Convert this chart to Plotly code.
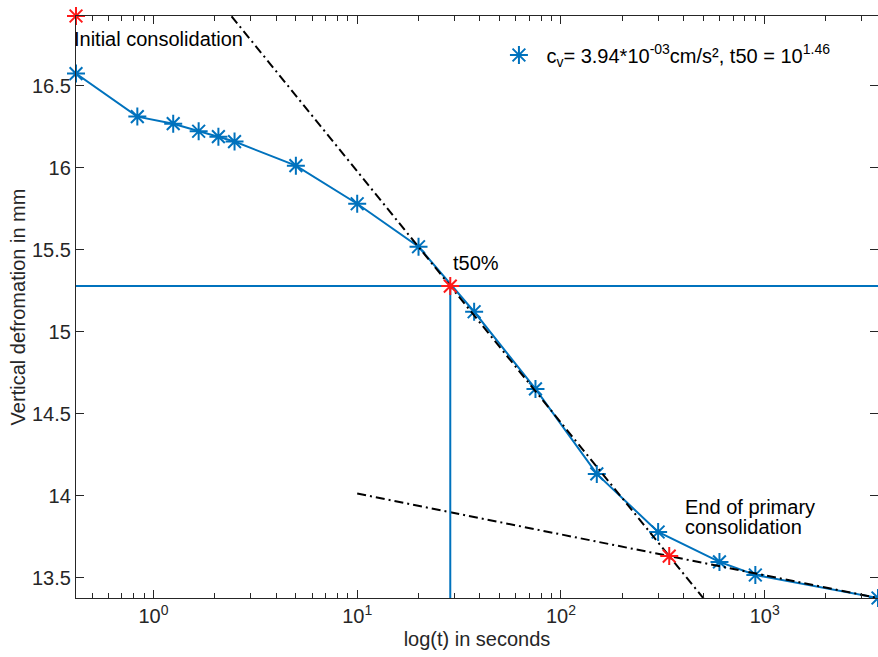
import numpy as np
import plotly.graph_objects as go

# Oedometer readings: elapsed time (s) and dial reading (mm)
t_sec = [25 / 60, 50 / 60, 75 / 60, 100 / 60, 125 / 60, 150 / 60,
         5, 10, 20, 37.5, 75, 150, 300, 600, 900, 3600]
settlement_mm = [16.573, 16.311, 16.268, 16.222, 16.189, 16.159,
                 16.012, 15.780, 15.518, 15.122, 14.652, 14.134,
                 13.780, 13.598, 13.518, 13.378]

# Casagrande construction parameters (y = a + b*log10(t))
steep_intercept = 17.509
steep_slope = -1.531
tail_slope = -0.249
tail_start_t = 10
cv_value = 3.94e-3

x_ticks = [1, 10, 100, 1000]
y_ticks = [13.5, 14, 14.5, 15, 15.5, 16, 16.5]

BLUE = "#0072BD"
RED = "#FF1A1A"
AX = "#262626"
FONT = "Liberation Sans, Arial, Helvetica, sans-serif"
FS = 20

t = np.array(t_sec)
d = np.array(settlement_mm)
logt = np.log10(t)

# d0 from the first reading and the one at four times that time
d0 = d[0] + (d[0] - d[3])
# secondary-compression tail through the last reading
tail_intercept = d[-1] - tail_slope * logt[-1]
log_t100 = (tail_intercept - steep_intercept) / (steep_slope - tail_slope)
t100 = 10 ** log_t100
d100 = steep_intercept + steep_slope * log_t100
d50 = (d0 + d100) / 2
log_t50 = (d50 - steep_intercept) / steep_slope
t50 = 10 ** log_t50

y_min, y_max = d.min(), d0

fig = go.Figure()

star = dict(symbol="asterisk-open", size=15, line=dict(width=2, color=BLUE), color=BLUE)
dashdot = dict(color="black", width=2, dash="9px,4px,2px,4px")

fig.add_trace(go.Scatter(
    x=t, y=d, mode="lines+markers", line=dict(color=BLUE, width=2),
    marker=star, cliponaxis=False, showlegend=False))

# steep tangent through the inflection
steep_x = [t[0], t[-1]]
steep_y = [steep_intercept + steep_slope * np.log10(v) for v in steep_x]
fig.add_trace(go.Scatter(x=steep_x, y=steep_y, mode="lines", line=dashdot, showlegend=False))

# tail tangent
tail_x = [tail_start_t, t[-1]]
tail_y = [tail_intercept + tail_slope * np.log10(v) for v in tail_x]
fig.add_trace(go.Scatter(x=tail_x, y=tail_y, mode="lines", line=dashdot, showlegend=False))

# d50 guide lines
fig.add_trace(go.Scatter(
    x=[t[0], t[-1]], y=[d50, d50], mode="lines",
    line=dict(color=BLUE, width=2), showlegend=False))
fig.add_trace(go.Scatter(
    x=[t50, t50], y=[d50, y_min], mode="lines",
    line=dict(color=BLUE, width=2), showlegend=False))

# key points
fig.add_trace(go.Scatter(
    x=[t[0], t50, t100], y=[d0, d50, d100], mode="markers",
    marker=dict(symbol="asterisk-open", size=15, line=dict(width=2, color=RED), color=RED),
    cliponaxis=False, showlegend=False))

legend_label = (f"c<sub>v</sub>= {cv_value / 1e-3:.2f}*10<sup>-03</sup>cm/s², "
                f"t50 = 10<sup>{log_t50:.2f}</sup>")
fig.add_trace(go.Scatter(
    x=[None], y=[None], mode="markers", marker=star, name=legend_label, showlegend=True))

txt = dict(size=FS, color="black", family=FONT)
fig.add_annotation(x=logt[0], y=d0 - 0.14, text="Initial consolidation",
                   showarrow=False, xanchor="left", yanchor="middle", xshift=-4, font=txt)
fig.add_annotation(x=log_t50, y=d50 + 0.14, text="t50%",
                   showarrow=False, xanchor="left", yanchor="middle", xshift=1, font=txt)
fig.add_annotation(x=log_t100 + 0.07, y=d100 + 0.298, text="End of primary",
                   showarrow=False, xanchor="left", yanchor="middle", font=txt)
fig.add_annotation(x=log_t100 + 0.07, y=d100 + 0.176, text="consolidation",
                   showarrow=False, xanchor="left", yanchor="middle", font=txt)

minor_vals = [k * 10.0 ** p for p in range(-1, 4) for k in range(2, 10)]
minor_vals = [v for v in minor_vals if t[0] <= v <= t[-1]]

axis_common = dict(
    ticks="inside", ticklen=8, tickwidth=1.3, tickcolor=AX,
    showline=True, linecolor=AX, linewidth=1.3, mirror="ticks",
    showgrid=False, zeroline=False,
    tickfont=dict(size=FS, color=AX, family=FONT),
)

fig.update_xaxes(
    type="log", range=[logt[0], logt[-1]],
    tickvals=x_ticks, ticktext=[f"10<sup>{int(np.log10(v))}</sup>" for v in x_ticks],
    minor=dict(tickvals=minor_vals, ticks="inside", ticklen=5, tickwidth=1.3, tickcolor=AX),
    title=dict(text="log(t) in seconds", font=dict(size=FS, color=AX, family=FONT), standoff=5),
    **axis_common,
)
fig.update_yaxes(
    range=[y_min, y_max],
    tickvals=y_ticks, ticktext=[f"{v:g}" for v in y_ticks],
    title=dict(text="Vertical defromation in mm", font=dict(size=FS, color=AX, family=FONT), standoff=0),
    **axis_common,
)

fig.update_layout(
    width=878, height=657,
    margin=dict(l=76, r=0, t=16, b=59),
    paper_bgcolor="white", plot_bgcolor="white",
    font=dict(family=FONT, color=AX),
    legend=dict(x=0.518, y=0.933, xanchor="left", yanchor="middle", itemwidth=45,
                bgcolor="rgba(255,255,255,0)", borderwidth=0,
                font=dict(size=FS, color="black", family=FONT)),
)

fig.write_html("out.html")
